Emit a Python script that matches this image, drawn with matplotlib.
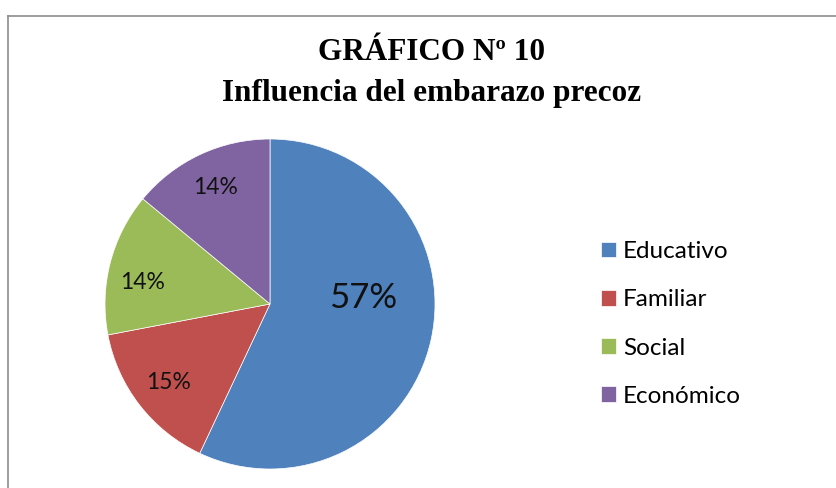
import numpy as np
from matplotlib import pyplot as plt
from matplotlib.lines import Line2D

# Data
categories = ['Educativo', 'Familiar', 'Social', 'Económico']
values = [57, 15, 14, 14]
colors = ['#4F81BD', '#C0504D', '#9BBB59', '#8064A2']

W, H = 836, 488
fig = plt.figure(figsize=(W / 100, H / 100), dpi=100)

# Chart border (left and top visible)
fig.add_artist(Line2D([7.5 / W, 7.5 / W], [0, 1 - 15.5 / H], color='#8c8c8c', lw=1.2))
fig.add_artist(Line2D([7.5 / W, 1], [1 - 15.5 / H, 1 - 15.5 / H], color='#8c8c8c', lw=1.2))

# Title
fig.text(432 / W, 1 - 52 / H, 'GRÁFICO Nº 10', ha='center', va='center',
         family='Liberation Serif', weight='bold', fontsize=22.5)
fig.text(432 / W, 1 - 94 / H, 'Influencia del embarazo precoz', ha='center', va='center',
         family='Liberation Serif', weight='bold', fontsize=22.5)

# Pie axes: centre (270, 304), radius 165 px
cx, cy, r = 270, 304, 165
ax = fig.add_axes([(cx - r) / W, (H - cy - r) / H, 2 * r / W, 2 * r / H])
wedges, texts, autotexts = ax.pie(values, colors=colors, startangle=90, counterclock=False,
                                  autopct='%d%%', pctdistance=0.78,
                                  wedgeprops=dict(linewidth=0.5, edgecolor='white'),
                                  textprops=dict(family='Lato', fontsize=16.5, color='#111111'))
ax.set_xlim(-1, 1)
ax.set_ylim(-1, 1)

# Big label for the main slice
autotexts[0].set_position((0.564, 0.036))
autotexts[0].set_fontsize(25)
# Social label sits a little lower
autotexts[2].set_position((-0.77, 0.13))

# Legend
fig.legend(wedges, categories, loc='center left', bbox_to_anchor=(579 / W, 1 - 324 / H),
           frameon=False, handlelength=0.62, handleheight=0.62, handletextpad=0.3,
           labelspacing=1.12, prop=dict(family='Lato', size=17.5))

fig.savefig('out.png', dpi=100)
